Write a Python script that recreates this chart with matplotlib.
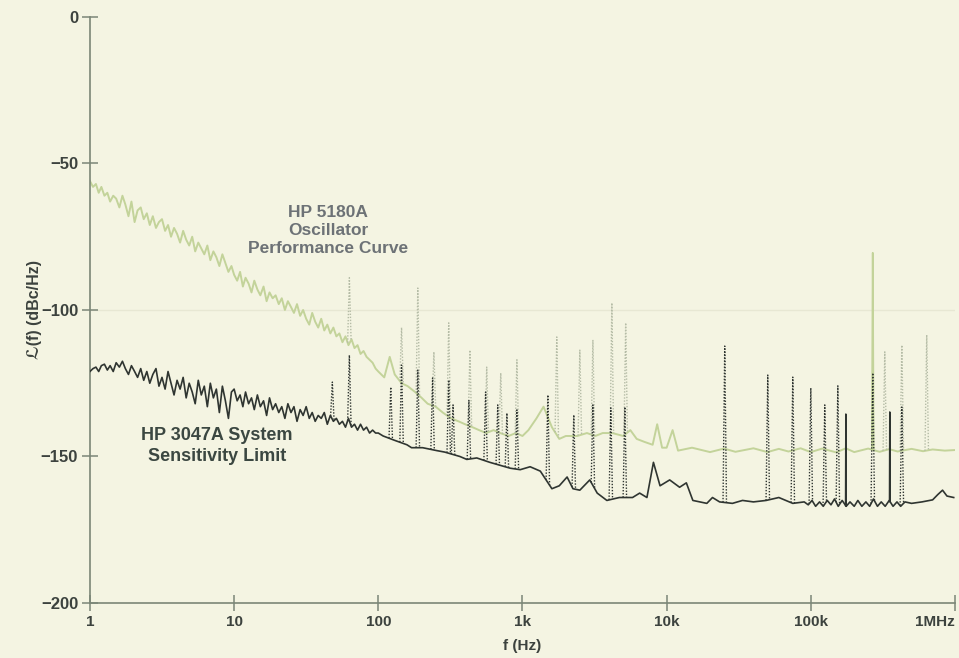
import numpy as np
import matplotlib.pyplot as plt

plt.rcParams['font.family'] = ['Liberation Sans', 'DejaVu Sans']

# sample frequencies used for both traces below 100 Hz
low_f = [1.0, 1.05, 1.1, 1.15, 1.2, 1.26, 1.32, 1.38, 1.45, 1.52, 1.6, 1.68, 1.76, 1.85, 1.94, 2.04,
         2.14, 2.25, 2.36, 2.48, 2.6, 2.73, 2.87, 3.01, 3.16, 3.32, 3.48, 3.65, 3.83, 4.02, 4.22, 4.43,
         4.65, 4.88, 5.12, 5.37, 5.64, 5.92, 6.21, 6.52, 6.84, 7.18, 7.53, 7.9, 8.29, 8.7, 9.13, 9.58,
         10, 10.5, 11, 11.5, 12, 12.6, 13.2, 13.8, 14.5, 15.2, 16, 16.8, 17.6, 18.5, 19.4, 20.4,
         21.4, 22.5, 23.6, 24.8, 26, 27.3, 28.7, 30.1, 31.6, 33.2, 34.8, 36.5, 38.3, 40.2, 42.2, 44.3,
         46.5, 48.8, 51.2, 53.7, 56.4, 59.2, 62.1, 65.2, 68.4, 71.8, 75.3, 79, 82.9, 87, 91.3, 95.8]

# HP 5180A oscillator curve (light green)
green_low_db = [-56, -58, -57, -60, -58, -61, -60, -63, -61, -62, -65, -61, -64, -68, -63, -70,
                -66, -65, -69, -67, -71, -68, -72, -70, -69, -73, -71, -75, -72, -74, -77, -73,
                -76, -78, -75, -80, -77, -79, -81, -78, -83, -80, -82, -85, -81, -84, -87, -85,
                -88, -90, -87, -92, -89, -91, -94, -90, -93, -95, -92, -97, -94, -96, -95, -98,
                -96, -100, -97, -99, -101, -98, -102, -100, -103, -105, -101, -104, -106, -103, -107, -105,
                -108, -106, -109, -108, -111, -109, -112, -110, -113, -112, -115, -114, -116, -117, -118, -120]
green_hi_f = [100, 110, 120, 130, 145, 160, 180, 200, 220, 250, 280, 320, 360,
              400, 450, 500, 560, 630, 700, 800, 900,
              1000, 1100, 1250, 1400, 1600, 1800, 2000, 2400, 2800, 3200, 3600, 4200,
              5000, 5600, 6200, 7000, 8000, 8600, 9300,
              10e3, 11e3, 12e3, 15e3, 20e3, 25e3, 30e3, 40e3, 50e3, 60e3, 70e3, 85e3, 100e3,
              120e3, 150e3, 175e3, 200e3, 250e3, 300e3, 350e3, 400e3, 500e3, 600e3, 700e3, 850e3, 1e6]
green_hi_db = [-121, -123, -116, -122, -125, -126, -128, -130, -132, -133, -135, -137, -138,
               -139, -140, -141, -142, -141, -142, -143, -142,
               -143, -141, -137, -133, -140, -144, -143, -143, -142, -143, -142, -142,
               -143, -141, -144, -145, -146, -139, -147,
               -147, -141, -148, -147, -148.5, -147.3, -148.4, -147.2, -148.5, -147.4, -148.3, -147.2, -148.5,
               -147.3, -148.6, -147.2, -148.5, -147.3, -148.4, -147.5, -148.3, -147.4, -148.2, -147.6, -148, -147.8]
green_f = low_f + green_hi_f
green_db = green_low_db + green_hi_db

# HP 3047A system sensitivity limit (dark)
black_low_db = [-121, -120, -119.5, -121, -119, -118.5, -120.5, -119, -121, -118, -119.5, -117.5, -120, -122, -119, -121,
                -123, -120, -124, -121, -125, -122, -120, -126, -123, -127, -121, -125, -129, -124, -127, -123,
                -130, -125, -128, -132, -124, -129, -126, -133, -125, -130, -127, -135, -126, -131, -137, -128,
                -127, -131, -129, -133, -128, -132, -130, -134, -129, -133, -131, -136, -130, -134, -132, -135,
                -133, -137, -132, -135, -133, -138, -134, -136, -133, -137, -135, -138, -136, -137, -135, -139,
                -136, -138, -137, -139, -138, -140, -137, -140, -139, -141, -139, -141, -140, -142, -141, -142]
black_hi_f = [100, 108, 130, 158, 170, 203, 255, 289, 368, 411, 482, 594, 700, 822, 965,
              1130, 1330, 1600, 1800, 2040, 2240, 2500, 2930, 3300, 3850, 4700, 5800,
              6500, 7300, 8100, 9000,
              10.5e3, 12.3e3, 13.7e3, 15.2e3, 19e3, 20.8e3, 23.3e3, 28.6e3, 33.6e3,
              40e3, 49e3, 60e3, 75e3, 90e3, 96e3,
              102e3, 108e3, 115e3, 122e3, 130e3, 138e3, 146e3, 155e3, 165e3, 176e3, 187e3,
              200e3, 212e3, 226e3, 241e3, 256e3, 272e3, 290e3, 308e3, 328e3, 350e3, 372e3,
              396e3, 420e3, 450e3, 500e3, 590e3, 700e3, 760e3, 820e3, 880e3, 980e3]
black_hi_db = [-142, -143, -144.5, -146, -147, -147, -148, -148.5, -150, -151, -150.5, -152, -153, -154, -154.5,
               -153.5, -155, -161, -160, -157, -161, -161.5, -158, -162.5, -165, -164, -164,
               -162.5, -164, -152, -160,
               -158, -160.5, -159, -165, -166, -164, -165.5, -166, -165,
               -165.5, -165, -164, -166, -165.5, -166.5,
               -165, -167, -165.5, -167, -165, -166.5, -164.5, -167, -165, -167, -165.5,
               -167, -165, -167, -165.5, -167, -164.5, -167, -165.5, -167, -165, -167,
               -165.5, -167, -165.5, -166, -165.5, -164.8, -163, -161.5, -163.5, -164]
black_f = low_f + black_hi_f
black_db = black_low_db + black_hi_db

# discrete spurs (peak levels)
black_spur_f = [48, 63, 122, 145, 188, 238, 308, 330, 425, 555, 674, 780, 915,
                1500, 2270, 3080, 4100, 5130,
                25.3e3, 50.3e3, 75e3, 100e3, 125e3, 154e3, 175e3, 269e3, 353e3, 428e3]
black_spur_db = [-124.6, -115.4, -126.3, -118.8, -120.5, -123.2, -123.9, -132.4, -130.7, -128,
                 -132.4, -135.2, -134.1, -129, -135.8, -132.4, -133.4, -133.1,
                 -112.3, -122.2, -122.9, -126.6, -132.4, -125.9, -135.5, -121.5, -134.8, -133.1]
black_solid_spurs = [175e3, 353e3]

green_spur_f = [63, 145, 188, 243, 308, 432, 565, 707, 915, 1730, 2500, 3080, 4170, 5200,
                326e3, 428e3, 637e3]
green_spur_db = [-89, -106, -92.5, -114.3, -104.4, -113.7, -119.5, -121.5, -117, -109.2,
                 -113.7, -110.2, -97.6, -104.4, -114.3, -112, -108.5]
big_spur_f = 269e3
big_spur_db = -80.5

xticks = [1, 10, 100, 1e3, 1e4, 1e5, 1e6]
xtick_labels = ['1', '10', '100', '1k', '10k', '100k', '1MHz']
yticks = [-200, -150, -100, -50, 0]
ytick_labels = ['\u2212200', '\u2212150', '\u2212100', '\u221250', '0']

BG = '#f4f4e2'
GREEN = '#c3d39a'
GREY = '#b5bca6'
DARK = '#2f3531'
AXIS = '#7b8677'
TXT = '#3c423e'


def spur(ax, f, peak, curve_f, curve_db, w=0.012, **kw):
    xs = f * 10 ** np.array([-w, 0.0, w])
    base = np.interp(np.log10(xs), np.log10(curve_f), curve_db)
    ax.plot(xs, [base[0], peak, base[2]], **kw)


fig = plt.figure(figsize=(9.59, 6.58), dpi=100, facecolor=BG)
ax = fig.add_axes([0.0938, 0.0836, 0.902, 0.8906])
ax.set_facecolor(BG)

ax.axhline(-100, color='#e7e7d3', lw=1.0, zorder=0)

ax.plot(green_f, green_db, color=GREEN, lw=1.4, zorder=2)
for f, p in zip(green_spur_f, green_spur_db):
    spur(ax, f, p, green_f, green_db, color=GREY, lw=1.0, ls=(0, (1, 1.2)), zorder=2)
spur(ax, big_spur_f, big_spur_db, green_f, green_db, w=0.006, color=GREEN, lw=1.3, zorder=2)

ax.plot(black_f, black_db, color=DARK, lw=1.2, zorder=3)
for f, p in zip(black_spur_f, black_spur_db):
    if f in black_solid_spurs:
        spur(ax, f, p, black_f, black_db, w=0.002, color=DARK, lw=1.1, zorder=3)
    else:
        spur(ax, f, p, black_f, black_db, color=DARK, lw=1.0, ls=(0, (1, 1.2)), zorder=3)

ax.set_xscale('log')
ax.set_xlim(1, 1e6)
ax.set_ylim(-200, 0)
ax.set_xticks(xticks)
ax.set_xticklabels(xtick_labels)
ax.set_yticks(yticks)
ax.set_yticklabels(ytick_labels)
ax.minorticks_off()
for s in ['top', 'right']:
    ax.spines[s].set_visible(False)
for s in ['left', 'bottom']:
    ax.spines[s].set_color(AXIS)
    ax.spines[s].set_linewidth(1.2)
ax.tick_params(direction='inout', length=11, width=1.1, color=AXIS,
               labelcolor=TXT, labelsize=11, pad=3)
ax.tick_params(axis='y', labelsize=12)
for lab in ax.get_xticklabels() + ax.get_yticklabels():
    lab.set_fontweight('bold')
ax.get_xticklabels()[-1].set_horizontalalignment('right')

ax.set_xlabel('f (Hz)', fontsize=11, fontweight='bold', color=TXT)
ax.xaxis.set_label_coords(0.5, -0.062)
ax.set_ylabel('\u2112(f) (dBc/Hz)', fontsize=11.5, fontweight='bold', color=TXT)
ax.yaxis.set_label_coords(-0.055, 0.5)

ax.text(44.8, -73, 'HP 5180A\nOscillator\nPerformance Curve', ha='center', va='center',
        fontsize=12.5, fontweight='bold', color='#6d7276', linespacing=1.25)
ax.text(7.6, -146.4, 'HP 3047A System\nSensitivity Limit', ha='center', va='center',
        fontsize=13, fontweight='bold', color='#3b4741', linespacing=1.25)

fig.savefig('out.png', dpi=100, facecolor=BG)
